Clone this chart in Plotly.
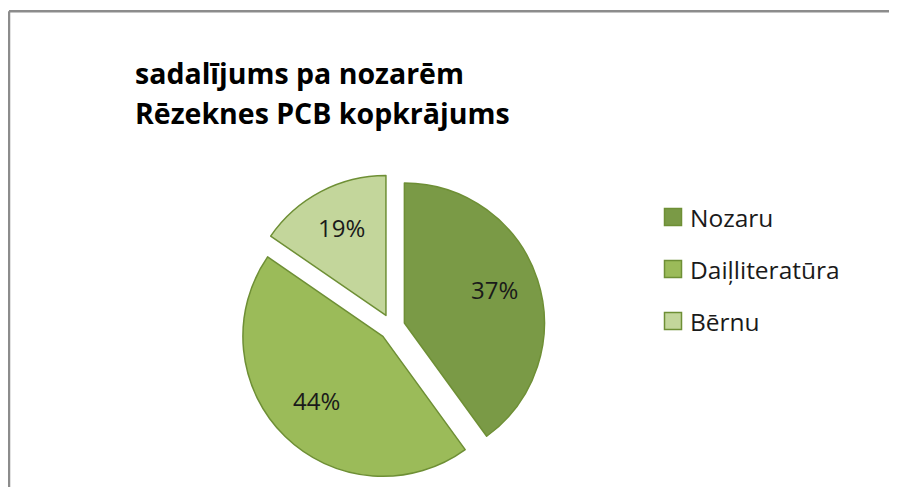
import math
import plotly.graph_objects as go

# ---- data ----
categories = ["Nozaru", "Daiļliteratūra", "Bērnu"]
# slice sizes as drawn in the picture
slice_shares = [40.0, 44.6, 15.4]
# percentage labels as printed on the slices
label_text = ["37%", "44%", "19%"]
slice_colors = ["#7A9A46", "#9BBB59", "#C3D69B"]
title_lines = ["sadalījums pa nozarēm", "Rēzeknes PCB kopkrājums"]

# ---- layout constants (figure pixel space) ----
W, H = 897, 487
border_col = "#6E8F35"
PIE_CX, PIE_CY, PIE_R, PULL = 384, 319, 140, 0.093
EXT = PIE_R * (1 + PULL)


def px_x(x):
    return x / W


def px_y(y):
    return 1 - y / H


fig = go.Figure()
fig.add_trace(go.Pie(
    labels=categories,
    values=slice_shares,
    sort=False,
    direction="clockwise",
    rotation=0,
    pull=[PULL] * len(slice_shares),
    marker=dict(colors=slice_colors, line=dict(color=border_col, width=1.5)),
    textinfo="none",
    domain=dict(x=[px_x(PIE_CX - EXT), px_x(PIE_CX + EXT)],
                y=[px_y(PIE_CY + EXT), px_y(PIE_CY - EXT)]),
    showlegend=False,
    hovertext=label_text,
    hoverinfo="label+text",
))

annotations = []
shapes = []

# slice labels: placed along each slice's mid-angle (computed from the data)
total = sum(slice_shares)
start = 0.0
for share, txt in zip(slice_shares, label_text):
    mid = math.radians((start + share / 2) / total * 360)
    start += share
    dist = PIE_R * PULL + 0.68 * PIE_R
    lx = PIE_CX + dist * math.sin(mid)
    ly = PIE_CY - dist * math.cos(mid)
    annotations.append(dict(
        text=txt, x=px_x(lx), y=px_y(ly - 4), xref="paper", yref="paper",
        xanchor="center", yanchor="middle", showarrow=False,
        font=dict(family="Open Sans", size=24, color="#1a1a1a"),
    ))

# title
title_mid_y = [65, 105]
for line, ty in zip(title_lines, title_mid_y):
    annotations.append(dict(
        text="<b>%s</b>" % line, x=px_x(125), y=px_y(ty), xref="paper", yref="paper",
        xanchor="left", yanchor="middle", showarrow=False,
        font=dict(family="Open Sans", size=28.5, color="#000000"),
    ))

# manual legend
leg_y0 = 209
leg_step = 52
for i, (cat, col) in enumerate(zip(categories, slice_colors)):
    cy = leg_y0 + i * leg_step
    shapes.append(dict(
        type="rect", xref="paper", yref="paper",
        x0=px_x(656.5), x1=px_x(673.5), y0=px_y(cy - 8.5), y1=px_y(cy + 8.5),
        fillcolor=col, line=dict(color=border_col, width=1.5),
    ))
    annotations.append(dict(
        text=cat, x=px_x(680), y=px_y(cy), xref="paper", yref="paper",
        xanchor="left", yanchor="middle", showarrow=False,
        font=dict(family="Open Sans", size=24.5, color="#1a1a1a"),
    ))

# chart frame (top and left edges visible)
shapes.append(dict(type="line", xref="paper", yref="paper",
                   x0=px_x(1), x1=1.01, y0=px_y(3.2), y1=px_y(3.2),
                   line=dict(color="#8C8C8C", width=2.5)))
shapes.append(dict(type="line", xref="paper", yref="paper",
                   x0=px_x(1), x1=px_x(1), y0=px_y(3.2), y1=-0.01,
                   line=dict(color="#8C8C8C", width=2.5)))

fig.update_layout(
    width=W, height=H,
    margin=dict(l=0, r=0, t=0, b=0),
    paper_bgcolor="white",
    plot_bgcolor="white",
    annotations=annotations,
    shapes=shapes,
    showlegend=False,
)

fig.write_html("out.html")
